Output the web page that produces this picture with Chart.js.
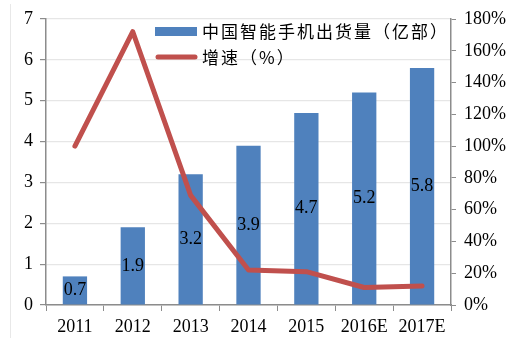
<!DOCTYPE html>
<html><head><meta charset="utf-8">
<script src="https://cdn.jsdelivr.net/npm/chart.js@4.4.0/dist/chart.umd.min.js"></script>
<style>html,body{margin:0;padding:0;background:#fff}#wrap{width:507px;height:338px;position:relative}</style>
</head><body><div id="wrap"><canvas id="c" width="507" height="338"></canvas></div>
<script>
const categories = ['2011','2012','2013','2014','2015','2016E','2017E'];
const shipments = [0.7, 1.9, 3.2, 3.9, 4.7, 5.2, 5.8];
const growth = [100, 172, 69, 22, 21, 11, 12];
const leftTicks = [0,1,2,3,4,5,6,7];
const rightTicks = [0,20,40,60,80,100,120,140,160,180];
const seriesNames = ['中国智能手机出货量（亿部）', '增速（%）'];

const serif = '"Liberation Serif", "Times New Roman", "Noto Sans CJK SC", serif';
const cjk = '"Noto Sans CJK SC", serif';
const BLUE = '#4F81BD', RED = '#C0504D', AXIS = '#8C8C8C', GRID = '#E6E6E6';

const labelsPlugin = {
  id: 'barLabels',
  afterDatasetsDraw(chart) {
    const ctx = chart.ctx;
    const meta = chart.getDatasetMeta(1);
    ctx.save();
    ctx.font = '18px ' + serif;
    ctx.fillStyle = '#000';
    ctx.textAlign = 'center';
    ctx.textBaseline = 'middle';
    meta.data.forEach((bar, i) => {
      const y = (bar.y + bar.base) / 2;
      ctx.fillText(String(shipments[i]), bar.x, y);
    });
    ctx.restore();
  }
};
const legendPlugin = {
  id: 'customLegend',
  afterDraw(chart) {
    const ctx = chart.ctx;
    ctx.save();
    ctx.fillStyle = BLUE;
    ctx.fillRect(155, 27, 42, 9);
    ctx.strokeStyle = RED;
    ctx.lineWidth = 5;
    ctx.lineCap = 'round';
    ctx.beginPath(); ctx.moveTo(158, 57); ctx.lineTo(195, 57); ctx.stroke();
    ctx.fillStyle = '#000';
    ctx.font = '17px ' + cjk;
    ctx.letterSpacing = '2px';
    ctx.textAlign = 'left';
    ctx.textBaseline = 'middle';
    ctx.fillText(seriesNames[0], 202, 32);
    ctx.fillText(seriesNames[1], 202, 58);
    ctx.letterSpacing = '0px';
    ctx.strokeStyle = '#E8E8E8'; ctx.lineWidth = 1; ctx.lineCap = 'butt';
    ctx.beginPath(); ctx.moveTo(10.5, 4); ctx.lineTo(10.5, 338); ctx.stroke();
    ctx.restore();
  }
};

new Chart(document.getElementById('c'), {
  data: {
    labels: categories,
    datasets: [
      { type: 'line', label: seriesNames[1], data: growth, yAxisID: 'y1', borderColor: RED, borderWidth: 5, pointRadius: 0, tension: 0, order: 0, borderJoinStyle: 'round', borderCapStyle: 'round' },
      { type: 'bar', label: seriesNames[0], data: shipments, yAxisID: 'y', backgroundColor: BLUE, categoryPercentage: 1, barPercentage: 0.42, order: 1 }
    ]
  },
  options: {
    responsive: false,
    animation: false,
    layout: { padding: { top: 19, left: 0, right: 0, bottom: 0 } },
    plugins: { legend: { display: false }, tooltip: { enabled: false } },
    scales: {
      x: {
        grid: { display: true, drawOnChartArea: false, tickLength: 6, color: AXIS, offset: true },
        border: { color: AXIS, width: 1.5 },
        ticks: { color: '#000', font: { family: serif, size: 18 }, padding: 5, maxRotation: 0, autoSkip: false },
        afterFit(s) { s.height = 33; }
      },
      y: {
        position: 'left', min: 0, max: 7,
        afterBuildTicks(s) { s.ticks = leftTicks.map(v => ({ value: v })); },
        grid: { color: GRID, tickColor: AXIS, tickLength: 6, lineWidth: 1.2 },
        border: { color: AXIS, width: 1.5 },
        ticks: { color: '#000', font: { family: serif, size: 18 }, padding: 7 },
        afterFit(s) { s.width = 46; }
      },
      y1: {
        position: 'right', min: 0, max: 180,
        afterBuildTicks(s) { s.ticks = rightTicks.map(v => ({ value: v })); },
        grid: { drawOnChartArea: false, tickColor: AXIS, tickLength: 5 },
        border: { color: AXIS, width: 1.5 },
        ticks: { color: '#000', font: { family: serif, size: 18 }, padding: 8, callback: v => v + '%' },
        afterFit(s) { s.width = 56; }
      }
    }
  },
  plugins: [labelsPlugin, legendPlugin]
});
</script></body></html>
